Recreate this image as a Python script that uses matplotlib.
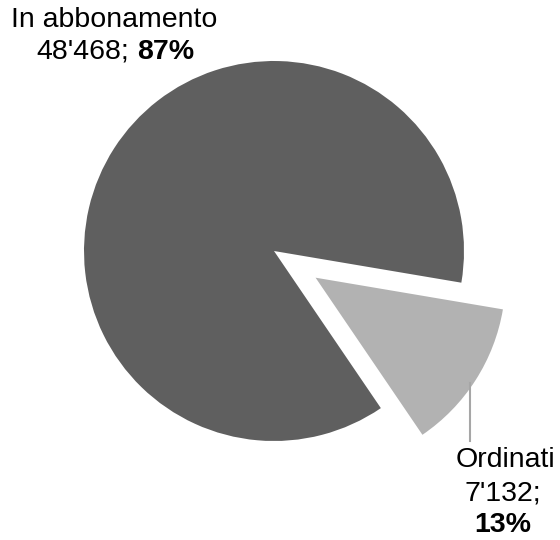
import matplotlib.pyplot as plt

# data
categories = ["In abbonamento", "Ordinati"]
values = [48468, 7132]
colors = ["#5f5f5f", "#b2b2b2"]

total = sum(values)
pcts = [round(v * 100 / total) for v in values]


def fmt(v):
    return f"{v:,}".replace(",", "'")


plt.rcParams['font.family'] = ['Liberation Sans', 'DejaVu Sans']
fs = 20.5

fig = plt.figure(figsize=(5.6, 5.4), dpi=100)
ax = fig.add_axes([0, 0, 1, 1])

# pixel-like coordinates, y up (explode is in data units here)
cx, cy, r = 274, 289, 190
ax.pie(values, center=(cx, cy), radius=r, startangle=-9.6,
       colors=colors, explode=[0, 0.26 * r], frame=True,
       wedgeprops=dict(linewidth=0))

ax.set_xlim(0, 560)
ax.set_ylim(0, 540)
ax.set_aspect('equal')
ax.axis('off')

# label big slice
ax.text(114, 520, categories[0], ha='center', va='center', fontsize=fs)
ax.text(129, 488, fmt(values[0]) + ";", ha='right', va='center', fontsize=fs)
ax.text(137, 488, f"{pcts[0]}%", ha='left', va='center', fontsize=fs,
        weight='bold')

# label small slice with leader line
ax.plot([470, 470], [157, 99], color='#a6a6a6', lw=1.5)
ax.text(505, 80, categories[1], ha='center', va='center', fontsize=fs)
ax.text(503, 47, fmt(values[1]) + ";", ha='center', va='center', fontsize=fs)
ax.text(503, 15, f"{pcts[1]}%", ha='center', va='center', fontsize=fs,
        weight='bold')

fig.savefig("out.png", dpi=100)
